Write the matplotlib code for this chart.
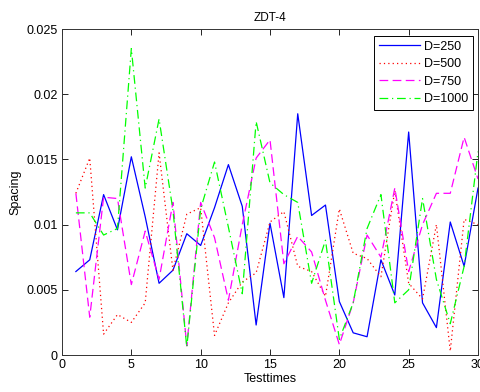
import matplotlib
matplotlib.use("Agg")
import matplotlib.pyplot as plt
import numpy as np

plt.rcParams['font.family'] = ['Liberation Sans', 'DejaVu Sans']

testtimes = list(range(1, 31))
d250 = [0.0064, 0.0073, 0.0123, 0.0096, 0.0152, 0.0106, 0.0055, 0.0065, 0.0093, 0.0084,
        0.0113, 0.0146, 0.0114, 0.0023, 0.0101, 0.0044, 0.0185, 0.0107, 0.0115, 0.0041,
        0.0017, 0.0014, 0.0073, 0.0046, 0.0171, 0.0040, 0.0021, 0.0102, 0.0068, 0.0128]
d500 = [0.0124, 0.0151, 0.0016, 0.0031, 0.0025, 0.0040, 0.0155, 0.0065, 0.0108, 0.0113,
        0.0015, 0.0040, 0.0056, 0.0063, 0.0102, 0.0110, 0.0068, 0.0064, 0.0045, 0.0112,
        0.0078, 0.0074, 0.0060, 0.0126, 0.0055, 0.0043, 0.0100, 0.0003, 0.0104, 0.0100]
d750 = [0.0124, 0.0029, 0.0121, 0.0120, 0.0054, 0.0095, 0.0058, 0.0117, 0.0007, 0.0117,
        0.0090, 0.0042, 0.0100, 0.0151, 0.0165, 0.0070, 0.0091, 0.0079, 0.0042, 0.0008,
        0.0040, 0.0092, 0.0075, 0.0128, 0.0064, 0.0100, 0.0124, 0.0124, 0.0167, 0.0135]
d1000 = [0.0109, 0.0109, 0.0092, 0.0097, 0.0235, 0.0128, 0.0181, 0.0111, 0.0006, 0.0112,
         0.0148, 0.0098, 0.0047, 0.0179, 0.0132, 0.0123, 0.0117, 0.0055, 0.0088, 0.0012,
         0.0040, 0.0097, 0.0123, 0.0040, 0.0050, 0.0120, 0.0058, 0.0024, 0.0068, 0.0156]

labels = ['D=250', 'D=500', 'D=750', 'D=1000']
xticks = [0, 5, 10, 15, 20, 25, 30]
yticks = [0, 0.005, 0.01, 0.015, 0.02, 0.025]
ytick_labels = ['0', '0.005', '0.01', '0.015', '0.02', '0.025']

fig = plt.figure(figsize=(4.81, 3.92), dpi=100)
ax = fig.add_axes([62/481, 37/392, 416/481, 326/392])

ax.plot(testtimes, d250, color=(0, 0, 1), linestyle='-', lw=0.9, label=labels[0])
ax.plot(testtimes, d500, color=(1, 0, 0), linestyle=(0, (1, 2.5)), lw=0.9, label=labels[1])
ax.plot(testtimes, d750, color=(1, 0, 1), linestyle=(0, (7, 3.5)), lw=0.9, label=labels[2])
ax.plot(testtimes, d1000, color=(0, 1, 0), linestyle=(0, (7, 3, 1, 3)), lw=0.9, label=labels[3])

ax.set_xlim(0, 30)
ax.set_ylim(0, 0.025)
ax.set_xticks(xticks)
ax.set_xticklabels([str(t) for t in xticks])
ax.set_yticks(yticks)
ax.set_yticklabels(ytick_labels)
ax.tick_params(direction='in', top=True, right=True, labelsize=9, length=4, width=0.6,
               colors='black', pad=3)
for s in ax.spines.values():
    s.set_linewidth(0.7)
    s.set_color('#333333')

ax.set_xlabel('Testtimes', fontsize=9, labelpad=1)
ax.set_ylabel('Spacing', fontsize=9, labelpad=4)
ax.set_title('ZDT-4', fontsize=8.5, pad=6)

leg = ax.legend(loc='upper right', bbox_to_anchor=(0.9875, 0.98), fontsize=9,
                frameon=True, fancybox=False, edgecolor='black', framealpha=1,
                handlelength=3.3, handletextpad=0.3, labelspacing=0.45,
                borderpad=0.4, borderaxespad=0.0)
leg.get_frame().set_linewidth(0.7)

fig.savefig('out.png', dpi=100, facecolor='white')
